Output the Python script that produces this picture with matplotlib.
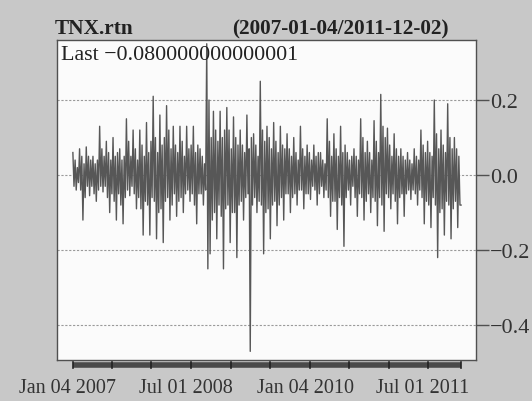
import numpy as np
import matplotlib
matplotlib.use("Agg")
import matplotlib.pyplot as plt
import matplotlib.transforms as mtransforms
from datetime import date

# TNX daily returns: one row per ~6px slice of the panel,
# each row = the spikes seen in that slice (hi, core low, hi, low, core hi, low)
rtn_rows = [
    [0.06, -0.03, 0.04, -0.04, 0.02, -0.02],
    [0.07, -0.04, 0.05, -0.12, 0.03, -0.06],
    [0.075, -0.03, 0.05, -0.055, 0.04, -0.03],
    [0.05, -0.05, 0.03, -0.07, 0.04, -0.04],
    [0.13, -0.03, 0.07, -0.045, 0.05, -0.03],
    [0.09, -0.06, 0.06, -0.10, 0.04, -0.05],
    [0.10, -0.07, 0.05, -0.12, 0.06, -0.05],
    [0.07, -0.08, 0.04, -0.13, 0.05, -0.06],
    [0.15, -0.04, 0.09, -0.055, 0.05, -0.03],
    [0.12, -0.05, 0.07, -0.09, 0.04, -0.06],
    [0.12, -0.09, 0.08, -0.16, 0.05, -0.07],
    [0.14, -0.08, 0.06, -0.16, 0.09, -0.06],
    [0.21, -0.07, 0.10, -0.17, 0.06, -0.10],
    [0.16, -0.09, 0.08, -0.18, 0.10, -0.07],
    [0.185, -0.06, 0.12, -0.12, 0.07, -0.08],
    [0.13, -0.05, 0.08, -0.11, 0.06, -0.07],
    [0.13, -0.06, 0.09, -0.10, 0.05, -0.05],
    [0.13, -0.04, 0.07, -0.07, 0.08, -0.05],
    [0.13, -0.08, 0.06, -0.13, 0.08, -0.05],
    [0.07, -0.05, 0.05, -0.08, 0.03, -0.04],
    [0.35, -0.25, 0.20, -0.21, 0.10, -0.12],
    [0.17, -0.10, 0.12, -0.17, 0.09, -0.08],
    [0.17, -0.11, 0.10, -0.25, 0.12, -0.09],
    [0.18, -0.08, 0.12, -0.18, 0.07, -0.10],
    [0.155, -0.10, 0.10, -0.22, 0.08, -0.08],
    [0.12, -0.07, 0.08, -0.12, 0.06, -0.06],
    [0.16, -0.05, 0.07, -0.47, 0.10, -0.08],
    [0.11, -0.06, 0.08, -0.10, 0.05, -0.07],
    [0.25, -0.08, 0.12, -0.21, 0.09, -0.10],
    [0.13, -0.09, 0.10, -0.17, 0.07, -0.08],
    [0.14, -0.07, 0.09, -0.135, 0.06, -0.08],
    [0.13, -0.06, 0.08, -0.12, 0.07, -0.05],
    [0.11, -0.05, 0.07, -0.10, 0.05, -0.06],
    [0.10, -0.05, 0.06, -0.08, 0.04, -0.04],
    [0.13, -0.04, 0.07, -0.09, 0.05, -0.05],
    [0.08, -0.05, 0.06, -0.065, 0.04, -0.03],
    [0.08, -0.04, 0.05, -0.08, 0.06, -0.05],
    [0.06, -0.03, 0.04, -0.06, 0.03, -0.04],
    [0.15, -0.06, 0.09, -0.11, 0.05, -0.07],
    [0.11, -0.07, 0.07, -0.145, 0.05, -0.06],
    [0.13, -0.08, 0.06, -0.19, 0.08, -0.06],
    [0.06, -0.04, 0.04, -0.08, 0.05, -0.03],
    [0.07, -0.06, 0.05, -0.11, 0.04, -0.05],
    [0.15, -0.06, 0.10, -0.12, 0.06, -0.07],
    [0.09, -0.05, 0.06, -0.10, 0.04, -0.06],
    [0.145, -0.07, 0.09, -0.135, 0.06, -0.06],
    [0.215, -0.08, 0.13, -0.15, 0.10, -0.05],
    [0.125, -0.06, 0.08, -0.09, 0.05, -0.05],
    [0.11, -0.07, 0.07, -0.13, 0.05, -0.06],
    [0.07, -0.05, 0.05, -0.11, 0.04, -0.05],
    [0.06, -0.04, 0.04, -0.065, 0.03, -0.04],
    [0.07, -0.05, 0.05, -0.08, 0.04, -0.04],
    [0.12, -0.06, 0.08, -0.13, 0.06, -0.07],
    [0.09, -0.08, 0.06, -0.14, 0.05, -0.06],
    [0.20, -0.08, 0.11, -0.22, 0.07, -0.10],
    [0.12, -0.09, 0.08, -0.16, 0.06, -0.07],
    [0.19, -0.08, 0.10, -0.17, 0.07, -0.09],
    [0.10, -0.07, 0.07, -0.14, 0.05, -0.08],
]
last_value = -0.080000000000001

start = date(2007, 1, 4)
end = date(2011, 12, 2)
tick_dates = [date(2007, 1, 4), date(2007, 7, 2), date(2008, 1, 2), date(2008, 7, 1),
              date(2009, 1, 2), date(2009, 7, 1), date(2010, 1, 4), date(2010, 7, 1),
              date(2011, 1, 3), date(2011, 7, 1), date(2011, 12, 2)]
label_dates = [date(2007, 1, 4), date(2008, 7, 1), date(2010, 1, 4), date(2011, 7, 1)]
label_text = ["Jan 04 2007", "Jul 01 2008", "Jan 04 2010", "Jul 01 2011"]
yticks = [0.2, 0.0, -0.2, -0.4]

series = np.array([v for row in rtn_rows for v in row] + [last_value])
n = len(series)
x = np.arange(n)


def pos(d):
    return (d - start).days / (end - start).days * (n - 1)


plt.rcParams['font.family'] = ['Liberation Serif', 'DejaVu Serif']

fig = plt.figure(figsize=(5.32, 4.02), dpi=100)
fig.patch.set_facecolor('#c8c8c8')
ax = fig.add_axes([0.107, 0.102, 0.788, 0.796])
ax.set_facecolor('#fbfbfb')

for yv in yticks:
    ax.axhline(yv, color='#9a9a9a', lw=0.8, ls=(0, (2, 1.5)), zorder=1)

ax.plot(x, series, color='#575757', lw=1.0, zorder=2)

ax.set_xlim(-14.3, n - 1 + 13.5)
ax.set_ylim(-0.493, 0.36)

for s in ax.spines.values():
    s.set_color('#505050')
    s.set_linewidth(1.0)

ax.yaxis.tick_right()
ax.set_yticks(yticks)
ax.set_yticklabels(['0.2', '0.0', '\u22120.2', '\u22120.4'])
ax.tick_params(axis='y', length=9, width=1.0, color='#505050', labelsize=16,
               labelcolor='#333333', pad=1)

ax.set_xticks([pos(d) for d in label_dates])
ax.set_xticklabels(label_text)
ax.tick_params(axis='x', length=0, labelsize=14.5, labelcolor='#333333', pad=13)
shift = mtransforms.ScaledTranslation(-5 / 100, 0, fig.dpi_scale_trans)
for lab in ax.get_xticklabels():
    lab.set_transform(lab.get_transform() + shift)

# thick date band under the panel, as quantmod draws it
band = mtransforms.blended_transform_factory(ax.transData, ax.transAxes)
ax.plot([pos(start), pos(end)], [-0.016, -0.016], transform=band, clip_on=False,
        color='#4a4a4a', lw=4, solid_capstyle='butt')
for d in tick_dates:
    ax.plot([pos(d), pos(d)], [-0.006, -0.026], transform=band, clip_on=False,
            color='#222222', lw=1.2)

fig.text(0.103, 0.915, 'TNX.rtn', fontsize=15.3, fontweight='bold', color='#222222',
         ha='left', va='baseline')
fig.text(0.436, 0.915, '(2007-01-04/2011-12-02)', fontsize=15.3, fontweight='bold',
         color='#222222', ha='left', va='baseline')
ax.text(0.01, 0.985, 'Last \u22120.080000000000001', transform=ax.transAxes,
        fontsize=15.8, color='#222222', ha='left', va='top')

fig.savefig('out.png', dpi=100, facecolor=fig.get_facecolor())
